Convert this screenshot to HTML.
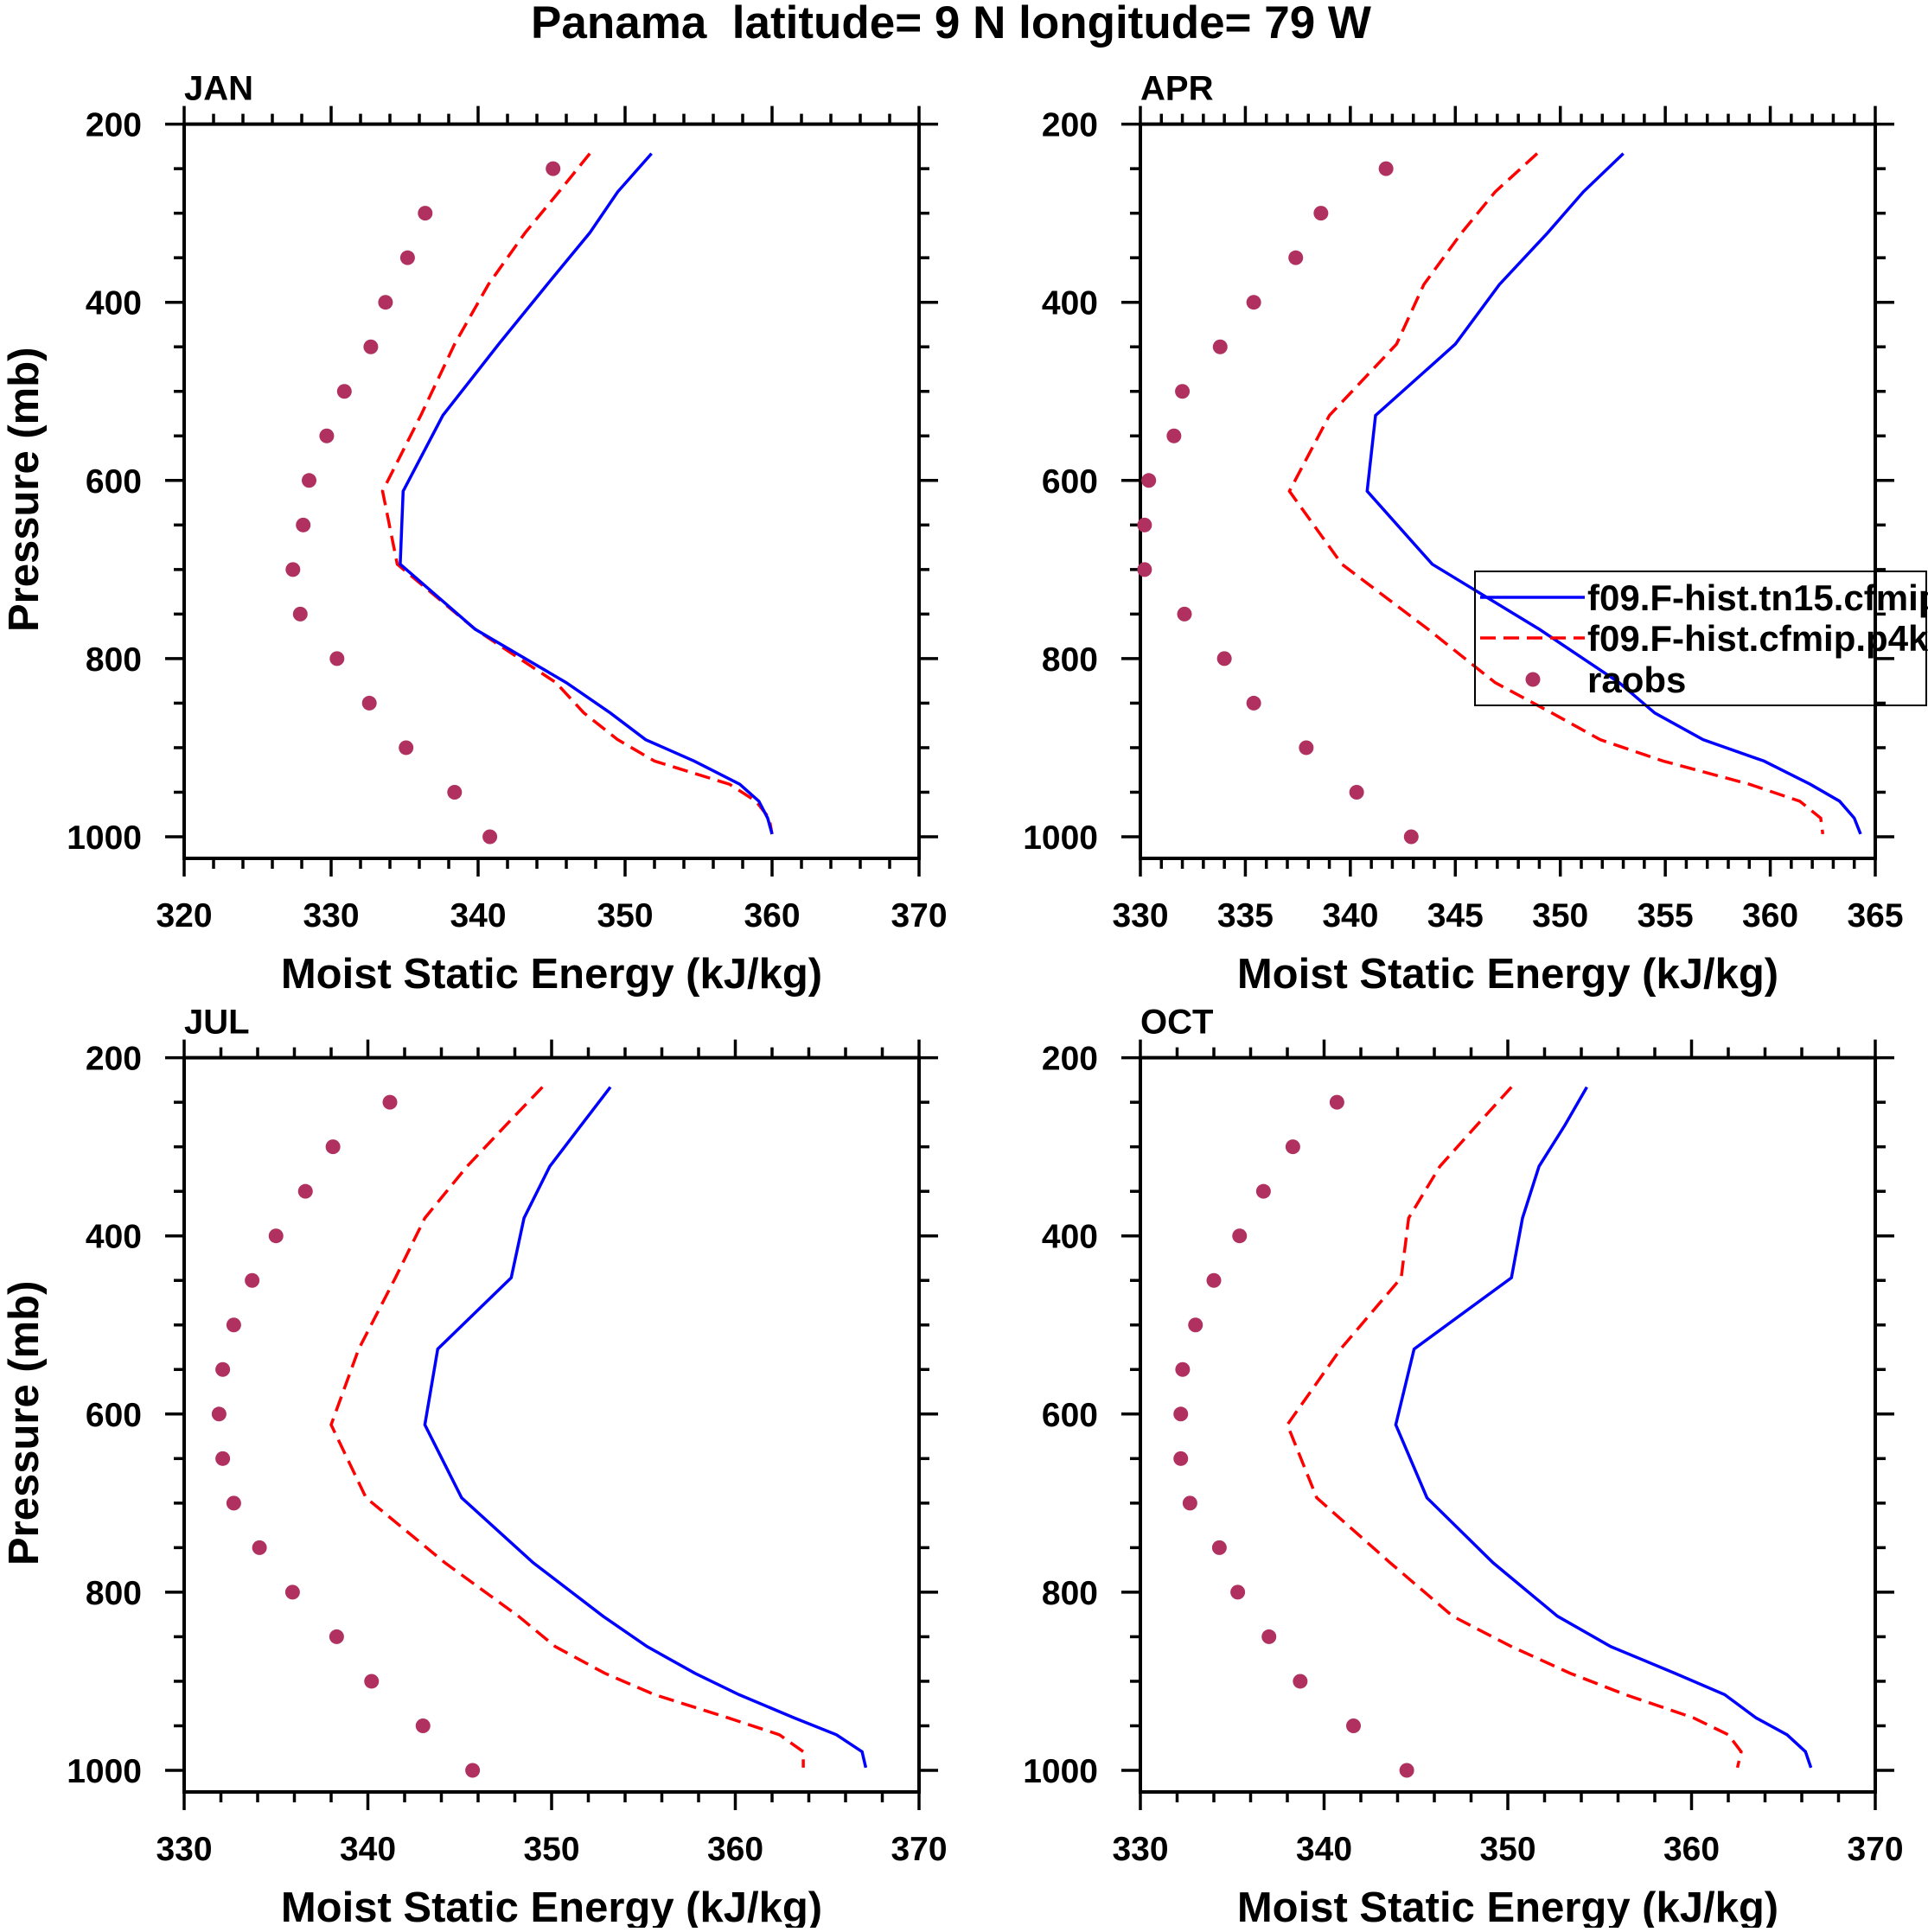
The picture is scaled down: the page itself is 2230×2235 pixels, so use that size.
<!DOCTYPE html>
<html><head><meta charset="utf-8"><style>
html,body{margin:0;padding:0;background:#fff;overflow:hidden}
svg text{font-family:"Liberation Sans",Arial,sans-serif;font-weight:bold;fill:#000}
</style></head><body>
<svg id="fig" width="2230" height="2230" viewBox="0 0 2230 2230" xmlns="http://www.w3.org/2000/svg">
<text x="1100" y="44" font-size="53" text-anchor="middle">Panama&#160; latitude= 9 N longitude= 79 W</text>
</svg>
<script>
const levels = [233,276,322,380,447,527,612,694,767,827,861,891,915,941,960,979,997];
const obsLevels = [250,300,350,400,450,500,550,600,650,700,750,800,850,900,950,1000];
const panelNames = ["JAN","APR","JUL","OCT"];
const janBlue = [351.8,349.5,347.6,344.7,341.4,337.6,334.9,334.7,339.8,346.0,349.0,351.4,354.7,357.8,359.1,359.7,360.0];
const janRed  = [347.6,345.5,343.2,340.7,338.4,336.1,333.5,334.5,339.8,345.3,347.2,349.5,352.0,357.1,358.9,359.8,360.0];
const janObs  = [345.1,336.4,335.2,333.7,332.7,330.9,329.7,328.5,328.1,327.4,327.9,330.4,332.6,335.1,338.4,340.8];
const aprBlue = [353.0,351.1,349.4,347.1,345.0,341.2,340.8,343.9,349.0,352.8,354.5,356.8,359.7,361.9,363.3,364.0,364.3];
const aprRed  = [348.9,346.9,345.3,343.5,342.2,339.0,337.1,339.6,343.7,346.9,349.6,351.9,354.9,359.0,361.4,362.4,362.5];
const aprObs  = [341.7,338.6,337.4,335.4,333.8,332.0,331.6,330.4,330.2,330.2,332.1,334.0,335.4,337.9,340.3,342.9];
const julBlue = [353.2,351.6,349.9,348.5,347.8,343.8,343.1,345.1,349.0,352.8,355.2,357.8,360.2,363.2,365.5,366.9,367.1];
const julRed  = [349.5,347.5,345.4,343.1,341.5,339.5,338.0,339.9,344.2,348.2,350.2,352.9,355.6,359.6,362.4,363.7,363.7];
const julObs  = [341.2,338.1,336.6,335.0,333.7,332.7,332.1,331.9,332.1,332.7,334.1,335.9,338.3,340.2,343.0,345.7];
const octBlue = [354.3,353.1,351.7,350.8,350.2,344.9,343.9,345.6,349.2,352.7,355.6,359.1,361.8,363.5,365.2,366.2,366.5];
const octRed  = [350.2,348.3,346.3,344.6,344.2,340.9,338.0,339.6,343.6,347.0,350.2,353.4,356.4,360.1,362.0,362.7,362.5];
const octObs  = [340.7,338.3,336.7,335.4,334.0,333.0,332.3,332.2,332.2,332.7,334.3,335.3,337.0,338.7,341.6,344.5];
const xTicksJan = [320,330,340,350,360,370];
const xTicksApr = [330,335,340,345,350,355,360,365];
const xTicksJul = [330,340,350,360,370];
const yTicks = [200,400,600,800,1000];
const legendLabels = ["f09.F-hist.tn15.cfmip.amip","f09.F-hist.cfmip.p4k.amip","raobs"];

const NS="http://www.w3.org/2000/svg";
const svg=document.getElementById('fig');
function mk(tag,attrs,parent){const e=document.createElementNS(NS,tag);for(const k in attrs)e.setAttribute(k,attrs[k]);(parent||svg).appendChild(e);return e;}

const panels=[
 {name:panelNames[0],left:213,top:143.6,xmin:320,xmax:370,ticks:xTicksJan,minor:2,blue:janBlue,red:janRed,obs:janObs,key:'jan',ytitle:true},
 {name:panelNames[1],left:1319,top:143.6,xmin:330,xmax:365,ticks:xTicksApr,minor:1,blue:aprBlue,red:aprRed,obs:aprObs,key:'apr',ytitle:false},
 {name:panelNames[2],left:213,top:1223.6,xmin:330,xmax:370,ticks:xTicksJul,minor:2,blue:julBlue,red:julRed,obs:julObs,key:'jul',ytitle:true},
 {name:panelNames[3],left:1319,top:1223.6,xmin:330,xmax:370,ticks:xTicksJul,minor:2,blue:octBlue,red:octRed,obs:octObs,key:'oct',ytitle:false}
];
const W=850,H=849.4,PPM=1.0305;
panels.forEach(p=>{
  const g=mk('g',{});
  
  
  const xs=v=>p.left+(v-p.xmin)/(p.xmax-p.xmin)*W;
  const ys=v=>p.top+(v-200)*PPM;
  const bottom=p.top+H,right=p.left+W;
  for(let v=p.xmin;v<=p.xmax+1e-6;v+=p.minor){
    const major=p.ticks.some(t=>Math.abs(t-v)<1e-6);
    const L=major?21:12;
    const t1=mk('line',{x1:xs(v),x2:xs(v),y1:p.top,y2:p.top-L,stroke:'#000','stroke-width':3.5},g);
    
    
    const t2=mk('line',{x1:xs(v),x2:xs(v),y1:bottom,y2:bottom+L,stroke:'#000','stroke-width':3.5},g);
    
    
  }
  for(let v=250;v<=1000;v+=50){
    const major=yTicks.includes(v);
    const L=major?22:12;
    const t1=mk('line',{x1:p.left,x2:p.left-L,y1:ys(v),y2:ys(v),stroke:'#000','stroke-width':3.5},g);
    
    
    const t2=mk('line',{x1:right,x2:right+L,y1:ys(v),y2:ys(v),stroke:'#000','stroke-width':3.5},g);
    
    
  }
  mk('line',{x1:p.left-22,x2:p.left,y1:p.top,y2:p.top,stroke:'#000','stroke-width':3.5},g);
  mk('line',{x1:right,x2:right+22,y1:p.top,y2:p.top,stroke:'#000','stroke-width':3.5},g);
  const fr=mk('rect',{x:p.left,y:p.top,width:W,height:H,fill:'none',stroke:'#000','stroke-width':4},g);
  
  
  p.ticks.forEach(v=>{
    const t=mk('text',{x:xs(v),y:bottom+79,'font-size':39,'text-anchor':'middle'},g);t.textContent=v;
    
    
  });
  yTicks.forEach(v=>{
    const t=mk('text',{x:p.left-49,y:ys(v)+14,'font-size':39,'text-anchor':'end'},g);t.textContent=v;
    
    
  });
  const pt=mk('text',{x:p.left,y:p.top-28,'font-size':40},g);pt.textContent=p.name;
  
  
  const xt=mk('text',{x:p.left+W/2,y:bottom+150,'font-size':49,'text-anchor':'middle'},g);xt.textContent='Moist Static Energy (kJ/kg)';
  
  
  if(p.ytitle){
    const yc=p.top+H/2-2, yx=p.left-169;
    const yt=mk('text',{x:yx,y:yc,'font-size':49,'text-anchor':'middle',transform:`rotate(-90 ${yx} ${yc})`},g);yt.textContent='Pressure (mb)';
    
    
  }
  const pts=arr=>arr.map((v,i)=>xs(v).toFixed(1)+','+ys(levels[i]).toFixed(1)).join(' ');
  const r=mk('polyline',{points:pts(p.red),fill:'none',stroke:'#ff0000','stroke-width':3.5,'stroke-dasharray':'18 9'},g);
  
  
  const b=mk('polyline',{points:pts(p.blue),fill:'none',stroke:'#0000ff','stroke-width':3.5},g);
  
  
  p.obs.forEach((v,i)=>{
    const c=mk('circle',{cx:xs(v),cy:ys(obsLevels[i]),r:8.5,fill:'#b03060'},g);
    
    
  });
});
const lg=mk('g',{});


mk('rect',{x:1706,y:661,width:522,height:155,fill:'none',stroke:'#000','stroke-width':2},lg);
const l1=mk('line',{x1:1712,x2:1833,y1:691,y2:691,stroke:'#0000ff','stroke-width':3.5},lg);


const l2=mk('line',{x1:1712,x2:1833,y1:738,y2:738,stroke:'#ff0000','stroke-width':3.5,'stroke-dasharray':'18 9'},lg);


const l3=mk('circle',{cx:1773,cy:786,r:8.5,fill:'#b03060'},lg);


[691,738,786].forEach((y,i)=>{
  const t=mk('text',{x:1836,y:y+15,'font-size':42},lg);t.textContent=legendLabels[i];
  
  
});
</script>
</body></html>
